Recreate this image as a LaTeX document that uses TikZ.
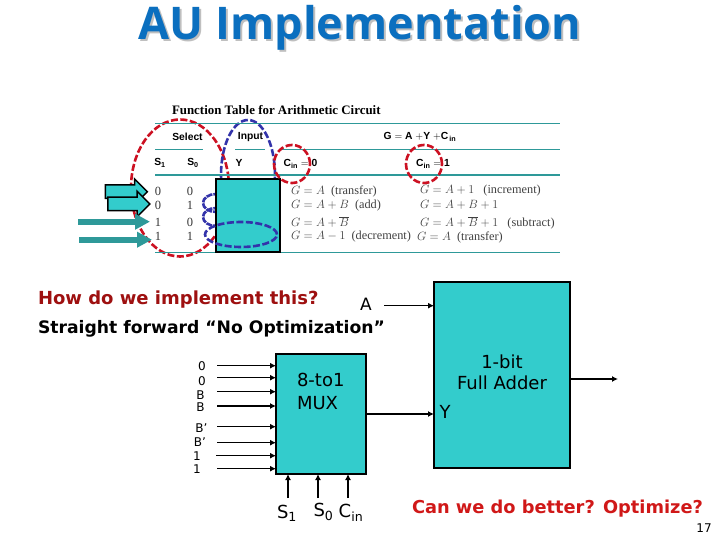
\documentclass[tikz,border=0pt]{standalone}
\usepackage{fontspec}
\setmainfont{DejaVu Sans}
\newfontfamily\titlefont{Open Sans}
\newfontfamily\tablesans{Liberation Sans}
\newfontfamily\tableserif{Liberation Serif}
\usepackage{amsmath}
\usepackage{xcolor}
\usetikzlibrary{shapes.geometric, shapes.arrows, arrows.meta, positioning, calc}
\definecolor{boxteal}{HTML}{33CCCC}
\definecolor{arrowteal}{HTML}{2E9999}
\definecolor{titleblue}{HTML}{0B6FBF}
\definecolor{ringred}{HTML}{CC1122}
\definecolor{ringblue}{HTML}{3333AA}
\definecolor{askred}{HTML}{9E1010}
\definecolor{betterred}{HTML}{D01818}

\begin{document}
\begin{tikzpicture}[
    x=1pt, y=-1pt,
    every node/.style={inner sep=0pt, outer sep=0pt},
    block/.style={rectangle, draw=black, line width=1.6pt, fill=boxteal, anchor=north west},
    ring/.style={ellipse, draw=ringred, dash pattern=on 7pt off 2.5pt, line width=2.6pt, inner sep=0pt},
    loopring/.style={ring, draw=ringblue},
    coil/.style={loopring, dash pattern=on 6pt off 1pt, minimum width=26pt, minimum height=18pt},
    rowline/.style={draw=arrowteal, line width=1.1pt},
    head/.style={font=\tablesans\bfseries\fontsize{10.3}{11}\selectfont},
    cell/.style={font=\tableserif\fontsize{12.3}{13}\selectfont, anchor=west, text=black!75},
    num/.style={font=\tableserif\fontsize{12.5}{13}\selectfont, text=black!80},
    inlabel/.style={font=\fontsize{12}{13}\selectfont},
    bigtext/.style={font=\fontsize{18}{20}\selectfont},
    say/.style={anchor=base west},
    fatarrow/.style={single arrow, draw=black, line width=1.5pt, fill=boxteal, single arrow head extend=6pt, single arrow tip angle=90, minimum height=42pt, inner sep=0pt, inner ysep=6pt},
    tealarrow/.style={-{Triangle[length=15pt,width=15pt]}, draw=arrowteal, line width=6pt},
    arr/.style={-{Latex[length=6pt,width=6pt]}, line width=1.5pt}
]
\useasboundingbox (0,0) rectangle (720,540);

% Title with its shadow
\node[font=\titlefont\bfseries\fontsize{45}{47}\selectfont, anchor=base, text=titleblue] (title) at (360,40) {\rlap{\kern2pt\raisebox{-2pt}{\textcolor{black!25}{AU Implementation}}}AU Implementation};

% Rings behind the table box
\node[ring, minimum width=98pt, minimum height=137pt] (selring) at (180,188) {};
\node[loopring, minimum width=54pt, minimum height=110pt] (inring) at (248,175) {};
\node[coil] (coila) at (216,203) {};
\node[coil] (coilb) at (216,217) {};

% Table rules
\draw[rowline] (155,123.5) -- (560,123.5);
\draw[rowline] (155,149.5) -- (203,149.5);
\draw[rowline] (235,149.5) -- (265,149.5);
\draw[rowline] (282,149.5) -- (560,149.5);
\draw[rowline] (155,175) -- (560,175);
\draw[rowline] (155,252.5) -- (560,252.5);

% Table heading row
\node[font=\tableserif\bfseries\fontsize{12.9}{13}\selectfont, anchor=west] (ftitle) at (172,110) {Function Table for Arithmetic Circuit};
\node[head] (select) at (187.5,137) {Select};
\node[head] (input) at (250.5,137) {Input};
\node[head] (geq) at (420,137) {G $=$ A $+$Y $+$C\textsubscript{\,in}};
\node[head] (sone) at (160,163) {S\textsubscript{1}};
\node[head] (szero) at (193,163) {S\textsubscript{0}};
\node[head] (yhead) at (239,163) {Y};
\node[head] (cza) at (300.5,164) {C\textsubscript{in} $=$ 0};
\node[head] (czb) at (433,164) {C\textsubscript{in} $=$ 1};

% Select column
\node[num] (ra) at (158,191) {0};
\node[num] (rb) at (158,205) {0};
\node[num] (rc) at (158,222) {1};
\node[num] (rd) at (158,236) {1};
\node[num] (qa) at (190,191) {0};
\node[num] (qb) at (190,205) {1};
\node[num] (qc) at (190,222) {0};
\node[num] (qd) at (190,236) {1};

% Carry 0 column
\node[cell] (fa) at (291,191) {$G=A$\ \ (transfer)};
\node[cell] (fb) at (291,206) {$G=A+B$\ \ (add)};
\node[cell] (fc) at (291,222) {$G=A+\overline{B}$};
\node[cell] (fd) at (291,237) {$G=A-1$\ \ (decrement)};

% Carry 1 column
\node[cell] (ga) at (420,191) {$G=A+1$\ \ \ (increment)};
\node[cell] (gb) at (420,205) {$G=A+B+1$};
\node[cell] (gc) at (420,223) {$G=A+\overline{B}+1$\ \ \ (subtract)};
\node[cell] (gd) at (417,237) {$G=A$\ \ (transfer)};

% Table box and rings on top
\node[block, minimum width=64pt, minimum height=73pt] (tbox) at (216,179) {};
\node[ring, minimum width=36pt, minimum height=38pt] (cinzero) at (292,164) {};
\node[ring, minimum width=36pt, minimum height=38pt] (cinone) at (424,164) {};
\node[loopring, minimum width=72pt, minimum height=25pt] (zring) at (241,234.5) {};

% Fat arrows
\node[fatarrow] (fatone) at (123,191.7) {};
\node[fatarrow] (fattwo) at (125.5,204) {};
\coordinate (fatc) at (78,221.7);
\coordinate (fatctip) at (150,221.7);
\coordinate (fatd) at (79,239.7);
\coordinate (fatdtip) at (152,239.7);
\draw[tealarrow] (fatc) -- (fatctip);
\draw[tealarrow] (fatd) -- (fatdtip);

% Spoken lines
\node[say, font=\bfseries\fontsize{18}{20}\selectfont, text=askred] (ask) at (38,304) {How do we implement this?};
\node[say, font=\bfseries\fontsize{17.2}{20}\selectfont] (straight) at (38,333) {Straight forward “No Optimization”};
\node[font=\fontsize{17}{18}\selectfont] (alabel) at (366,304) {A};
\node[say, font=\bfseries\fontsize{17.8}{20}\selectfont, text=betterred] (better) at (412,513) {Can we do better? Optimize?};
\node[font=\fontsize{12}{13}\selectfont] (page) at (704,528) {17};

% Blocks
\node[block, minimum width=90pt, minimum height=120pt] (mux) at (276,354) {};
\node[bigtext, align=left, anchor=west] (muxtext) at (297,391.5) {8-to1\\[3pt]MUX};
\node[block, minimum width=136pt, minimum height=186pt] (adder) at (434,282) {};
\node[bigtext, align=center] (addertext) at (502,372.5) {1-bit\\[1pt]Full Adder};
\node[bigtext] (ylabel) at (445,412) {Y};

% Inputs of the mux
\node[inlabel] (na) at (202,366) {0};
\node[inlabel] (nb) at (202,381) {0};
\node[inlabel] (nc) at (200.5,395) {B};
\node[inlabel] (nd) at (200.5,407) {B};
\node[inlabel] (ne) at (201.5,428) {B’};
\node[inlabel] (nf) at (200,442) {B’};
\node[inlabel] (ng) at (197,456) {1};
\node[inlabel] (nh) at (197,469) {1};
\coordinate (ia) at (217,365.7);
\coordinate (ib) at (217,377.7);
\coordinate (ic) at (217,391.7);
\coordinate (id) at (217,406);
\coordinate (ie) at (217,426.7);
\coordinate (if) at (217,442.7);
\coordinate (ig) at (216,455.7);
\coordinate (ih) at (217,468.7);
\draw[arr] (ia) -- (ia -| mux.west);
\draw[arr] (ib) -- (ib -| mux.west);
\draw[arr] (ic) -- (ic -| mux.west);
\draw[arr] (id) -- (id -| mux.west);
\draw[arr] (ie) -- (ie -| mux.west);
\draw[arr] (if) -- (if -| mux.west);
\draw[arr] (ig) -- (ig -| mux.west);
\draw[arr] (ih) -- (ih -| mux.west);

% Select lines of the mux
\node[bigtext] (sonelabel) at (287,513) {S\textsubscript{1}};
\node[bigtext] (szerolabel) at (323.5,512) {S\textsubscript{0}};
\node[bigtext] (cinlabel) at (351,513) {C\textsubscript{in}};
\coordinate (sa) at (288,498);
\coordinate (sb) at (318,498);
\coordinate (sc) at (348,498);
\draw[arr] (sa) -- (sa |- mux.south);
\draw[arr] (sb) -- (sb |- mux.south);
\draw[arr] (sc) -- (sc |- mux.south);

% Into and out of the adder
\coordinate (aout) at (384,305.7);
\coordinate (yline) at (400,414);
\coordinate (sumend) at (618,379);
\draw[arr] (aout) -- (aout -| adder.west);
\draw[arr] (yline -| mux.east) -- (yline -| adder.west);
\draw[arr] (sumend -| adder.east) -- (sumend);

\end{tikzpicture}
\end{document}
